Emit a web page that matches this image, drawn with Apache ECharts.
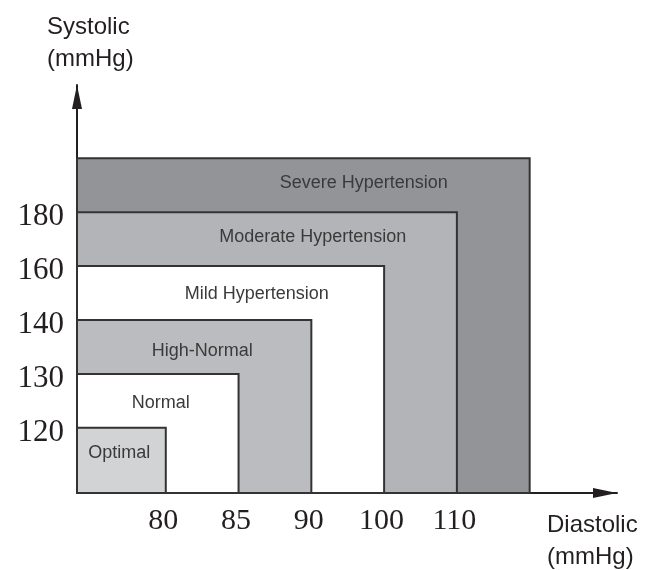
<!DOCTYPE html>
<html>
<head>
<meta charset="utf-8">
<script src="https://cdn.jsdelivr.net/npm/echarts@6/dist/echarts.min.js"></script>
<style>
  html, body { margin: 0; padding: 0; background: #fff; }
  #chart { width: 659px; height: 570px; }
</style>
</head>
<body>
<div id="chart"></div>
<script>
// blood pressure classes, innermost first
const categories = ['Optimal', 'Normal', 'High-Normal', 'Mild Hypertension', 'Moderate Hypertension', 'Severe Hypertension']
// upper limits of each class (null = open ended)
const diastolicUpper = [80, 85, 90, 100, 110, null]
const systolicUpper = [120, 130, 140, 160, 180, null]
// tick labels (ordinal, not to scale)
const diastolicTicks = ['80', '85', '90', '100', '110']
const systolicTicks = ['120', '130', '140', '160', '180']

// layout / style
const fills = ['#d2d3d5', '#ffffff', '#bbbcbf', '#ffffff', '#b3b4b7', '#939497']
const labelAt = [[0.36, 0.54], [0.93, 1.45], [1.5, 2.43], [2.25, 3.49], [3.02, 4.53], [3.72, 5.55]]
const X_MIN = -0.22
const Y_MIN = -0.21

function ordinal (ticks, v) {
  if (v == null) return ticks.length + 1
  return ticks.indexOf(String(v)) + 1
}

let boxes = categories.map(function (name, i) {
  return {
    name: name,
    value: [ordinal(diastolicTicks, diastolicUpper[i]), ordinal(systolicTicks, systolicUpper[i]), labelAt[i][0], labelAt[i][1]],
    fill: fills[i]
  }
}).reverse()

let chartDom = document.getElementById('chart')
let myChart = echarts.init(chartDom)

let option = {
  animation: false,
  title: [
    {
      text: 'Systolic\n(mmHg)',
      left: 42,
      top: 6,
      textStyle: {fontSize: 24, fontWeight: 'normal', lineHeight: 32, color: '#231f20', fontFamily: 'Liberation Sans'}
    },
    {
      text: 'Diastolic\n(mmHg)',
      left: 542,
      top: 504,
      textStyle: {fontSize: 24, fontWeight: 'normal', lineHeight: 32, color: '#231f20', fontFamily: 'Liberation Sans'}
    }
  ],
  grid: {left: 77, right: 42, top: 85, bottom: 77},
  xAxis: {
    type: 'value',
    min: X_MIN,
    max: 7.2,
    axisLine: {
      onZero: false,
      lineStyle: {color: '#231f20', width: 2},
      symbol: ['none', 'triangle'],
      symbolSize: [10, 24],
      symbolOffset: [0, -12]
    },
    axisTick: {show: false},
    splitLine: {show: false},
    axisLabel: {
      customValues: [1, 2, 3, 4, 5],
      formatter: function (v) { return diastolicTicks[Math.round(v) - 1] },
      fontFamily: 'Liberation Serif',
      fontSize: 30,
      color: '#231f20',
      margin: 13,
      padding: [0, 5, 0, 0]
    }
  },
  yAxis: {
    type: 'value',
    min: Y_MIN,
    max: 7.36,
    axisLine: {
      onZero: false,
      lineStyle: {color: '#231f20', width: 2},
      symbol: ['none', 'triangle'],
      symbolSize: [10, 24],
      symbolOffset: [0, -12]
    },
    axisTick: {show: false},
    splitLine: {show: false},
    axisLabel: {
      customValues: [1, 2, 3, 4, 5],
      formatter: function (v) { return '{v|' + systolicTicks[Math.round(v) - 1] + '}' },
      rich: {
        v: {
          fontFamily: 'Liberation Serif',
          fontSize: 31,
          color: '#231f20',
          padding: [10, 0, 0, 0]
        }
      },
      margin: 13
    }
  },
  series: [
    {
      type: 'custom',
      z: 1,
      data: boxes,
      renderItem: function (params, api) {
        let item = boxes[params.dataIndex]
        let p0 = api.coord([X_MIN, Y_MIN])
        let p1 = api.coord([api.value(0), api.value(1)])
        let pl = api.coord([api.value(2), api.value(3)])
        return {
          type: 'group',
          children: [
            {
              type: 'rect',
              shape: {x: p0[0], y: p1[1], width: p1[0] - p0[0], height: p0[1] - p1[1]},
              style: {fill: item.fill, stroke: '#333333', lineWidth: 2}
            },
            {
              type: 'text',
              x: pl[0],
              y: pl[1],
              style: {
                text: item.name,
                align: 'center',
                verticalAlign: 'middle',
                fontFamily: 'Liberation Sans',
                fontSize: 18,
                fill: '#3a3a3a'
              }
            }
          ]
        }
      }
    }
  ]
}
myChart.setOption(option, true)
</script>
</body>
</html>
